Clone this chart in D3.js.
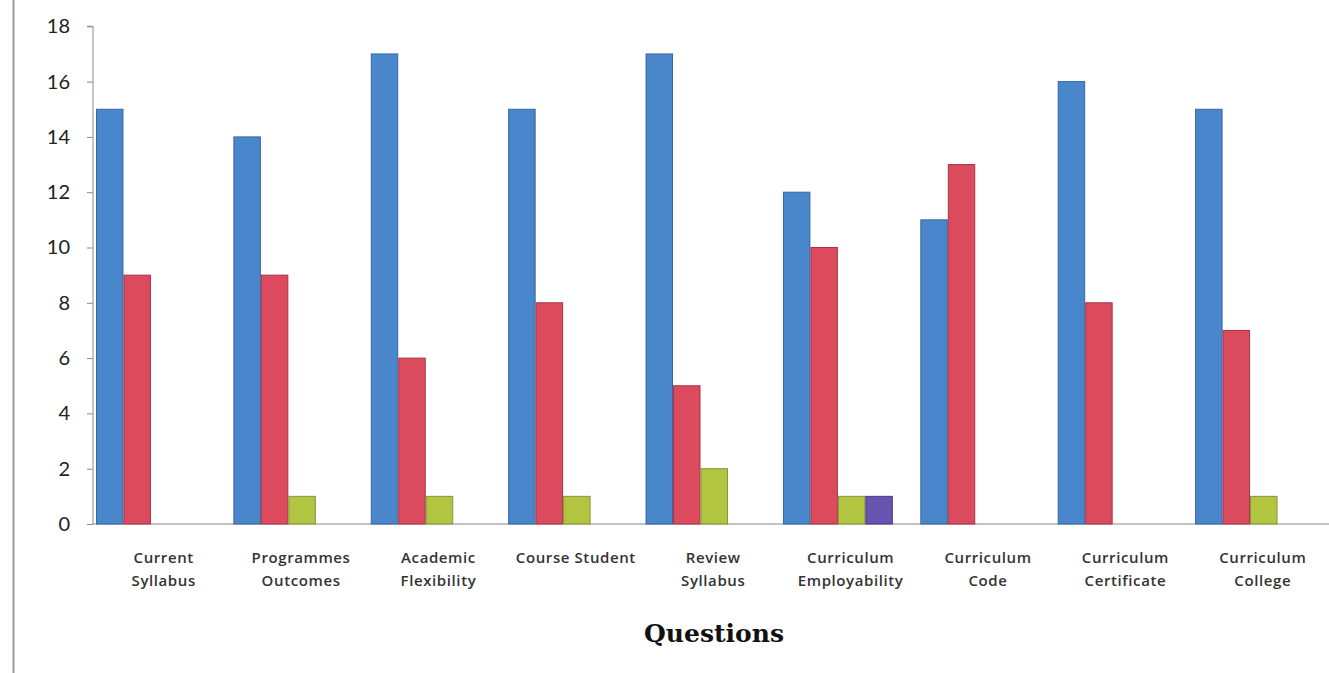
<!DOCTYPE html>
<meta charset="utf-8">
<style>
body { margin: 0; background: #fff; }
.axis path, .axis line { stroke: #8a8a8a; }
.axis--y text { font: 20px Lato, sans-serif; fill: #222; }
.cat { font: 600 15px "Open Sans", sans-serif; fill: #333; letter-spacing: 0.6px; }
.title { font: bold 25px "DejaVu Serif", serif; fill: #111; }
</style>
<svg width="1329" height="673"></svg>
<script src="https://cdn.jsdelivr.net/npm/d3@7"></script>
<script>

var categories = [
  ["Current", "Syllabus"],
  ["Programmes", "Outcomes"],
  ["Academic", "Flexibility"],
  ["Course Student"],
  ["Review", "Syllabus"],
  ["Curriculum", "Employability"],
  ["Curriculum", "Code"],
  ["Curriculum", "Certificate"],
  ["Curriculum", "College"]
];
var seriesBlue   = [15, 14, 17, 15, 17, 12, 11, 16, 15];
var seriesRed    = [9, 9, 6, 8, 5, 10, 13, 8, 7];
var seriesGreen  = [0, 1, 1, 1, 2, 1, 0, 0, 1];
var seriesPurple = [0, 0, 0, 0, 0, 1, 0, 0, 0];
var yTicks = [0, 2, 4, 6, 8, 10, 12, 14, 16, 18];

var seriesList = [seriesBlue, seriesRed, seriesGreen, seriesPurple];
var fills = ["#4a86cc", "#dc4a5e", "#b2c540", "#6654b0"];
var strokes = ["#36679f", "#a83444", "#87953a", "#463a82"];

var svg = d3.select("svg");

// left frame line
svg.append("line")
    .attr("x1", 13.5).attr("x2", 13.5).attr("y1", 0).attr("y2", 673)
    .attr("stroke", "#9a9a9a").attr("stroke-width", 2);

var x0 = d3.scaleBand()
    .domain(d3.range(categories.length))
    .range([96, 1305])
    .paddingInner(0.2)
    .paddingOuter(0);

var x1 = d3.scaleBand()
    .domain(d3.range(seriesList.length))
    .range([0, x0.bandwidth()]);

var y = d3.scaleLinear().domain([0, 18]).range([524, 26.3]);

// y axis
svg.append("g")
    .attr("class", "axis axis--y")
    .attr("transform", "translate(93,0)")
    .call(d3.axisLeft(y).tickValues(yTicks).tickSize(6).tickPadding(17))
    .call(function(g) { g.select(".domain").attr("d", "M-6," + y(18) + "H0V" + y(0)); });

// x axis line
svg.append("line")
    .attr("x1", 93).attr("x2", 1329)
    .attr("y1", y(0)).attr("y2", y(0))
    .attr("stroke", "#8a8a8a");

// bars
var groups = svg.selectAll(".grp")
    .data(categories)
  .enter().append("g")
    .attr("class", "grp")
    .attr("transform", function(d, i) { return "translate(" + x0(i) + ",0)"; });

groups.selectAll("rect")
    .data(function(d, i) { return seriesList.map(function(s, k) { return {k: k, v: s[i]}; }); })
  .enter().filter(function(d) { return d.v > 0; }).append("rect")
    .attr("x", function(d) { return x1(d.k) + 0.5; })
    .attr("width", x1.bandwidth() - 1)
    .attr("y", function(d) { return y(d.v); })
    .attr("height", function(d) { return y(0) - y(d.v); })
    .attr("fill", function(d) { return fills[d.k]; })
    .attr("stroke", function(d) { return strokes[d.k]; })
    .attr("stroke-width", 1);

// category labels
var step = x0.step();
var labels = svg.selectAll(".cat")
    .data(categories)
  .enter().append("text")
    .attr("class", "cat")
    .attr("text-anchor", "middle")
    .attr("x", function(d, i) { return x0(i) + step / 2 - 1; })
    .attr("y", 563);

labels.selectAll("tspan")
    .data(function(d) { return d; })
  .enter().append("tspan")
    .attr("x", function() { return d3.select(this.parentNode).attr("x"); })
    .attr("dy", function(d, i) { return i ? 23 : 0; })
    .text(function(d) { return d; });

svg.append("text")
    .attr("class", "title")
    .attr("text-anchor", "middle")
    .attr("x", 714)
    .attr("y", 642)
    .text("Questions");
</script>
